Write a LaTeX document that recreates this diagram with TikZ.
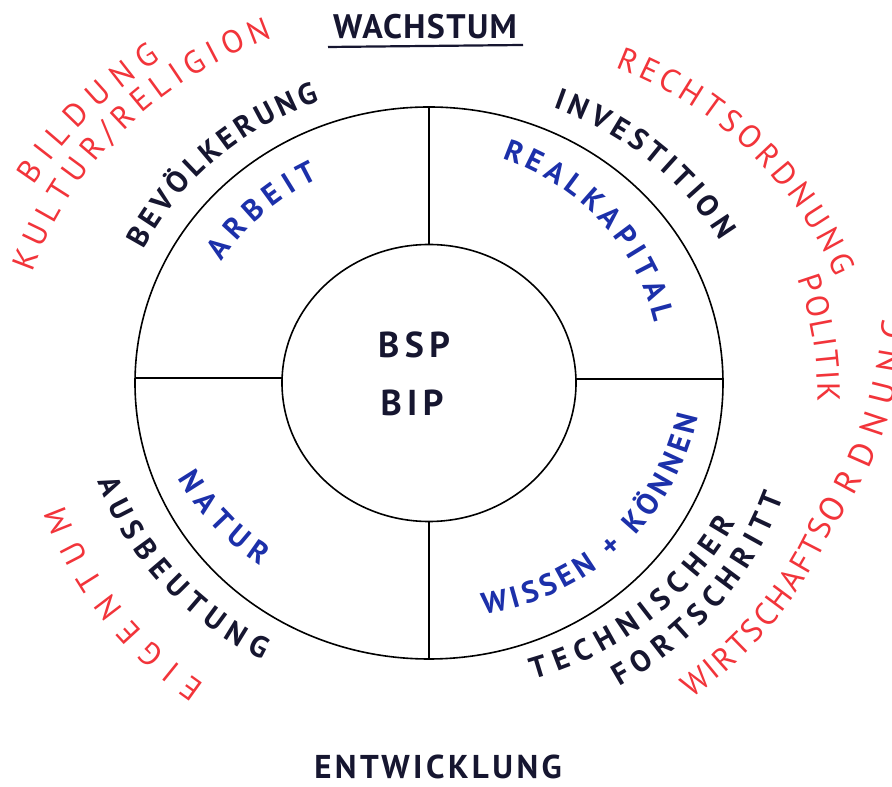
\documentclass[tikz,border=0pt]{standalone}
\usepackage{fontspec}
\setmainfont{PT Sans}
\usetikzlibrary{decorations.text,shapes.geometric}

\definecolor{ink}{RGB}{22,22,48}
\definecolor{inkblue}{RGB}{28,48,170}
\definecolor{inkred}{RGB}{242,52,58}

\newcommand{\inkfont}{\color{ink}\fontsize{30}{30}\selectfont\bfseries}
\newcommand{\bluefont}{\color{inkblue}\fontsize{30}{30}\selectfont\bfseries}
\newcommand{\redfont}{\color{inkred}\fontsize{32}{32}\selectfont}
\newcommand{\redbigfont}{\color{inkred}\fontsize{34}{34}\selectfont}

% text set along a (slightly spiralling) elliptical arc around the centre (429,404)
% #1 format, #2 start angle, #3 end angle, #4 start radius, #5 end radius,
% #6 growth exponent of the radius, #7 text
\newcommand{\ringtext}[7]{%
  \path[decorate, decoration={text along path, text align={fit to path}, text={|#1|#7}}]
    plot[domain=#2:#3, samples=70, variable=\t]
    ({429+(#4+(#5-#4)*pow((\t-(#2))/((#3)-(#2)),#6))*cos(\t)},
     {404+0.94*(#4+(#5-#4)*pow((\t-(#2))/((#3)-(#2)),#6))*sin(\t)});
}

\begin{document}
\begin{tikzpicture}[x=1pt,y=1pt,
  ring/.style={draw=black, line width=1.6pt, ellipse, inner sep=0pt, outer sep=0pt},
  spoke/.style={draw=black, line width=1.6pt},
  heading/.style={text=ink, inner sep=0pt},
  core/.style={text=ink, font=\fontsize{36}{36}\selectfont\bfseries\addfontfeature{LetterSpace=15}, inner sep=0pt}]
\useasboundingbox (0,0) rectangle (892,787);
\fill[white] (0,0) rectangle (892,787);

\coordinate (C) at (429,404);
\node[ring, minimum width=588pt, minimum height=552pt] (outer) at (C) {};
\node[ring, minimum width=294pt, minimum height=277pt] (inner) at (C) {};

\draw[spoke] (inner.north) -- (outer.north);
\draw[spoke] (inner.south) -- (outer.south);
\draw[spoke] ([yshift=5pt]inner.west) -- ([yshift=5pt]outer.west);
\draw[spoke] ([yshift=4pt]inner.east) -- ([yshift=4pt]outer.east);

% centre
\node[core] (bsp) at (414,442) {BSP};
\node[core] (bip) at (412,384) {BIP};

% headings
\node[heading, font=\fontsize{34}{34}\selectfont\bfseries\addfontfeature{LetterSpace=4}] (wachstum) at (425,760) {WACHSTUM};
\coordinate (ulA) at (328,740);
\coordinate (ulB) at (523,742);
\draw[ink, line width=2.2pt] (ulA) -- (ulB);
\node[heading, font=\fontsize{33}{33}\selectfont\bfseries\addfontfeature{LetterSpace=10.5}] (entwicklung) at (438,20) {ENTWICKLUNG};

% upper left
\ringtext{\inkfont}{153.5}{110}{319}{319}{1}{BEVÖLKERUNG}
\ringtext{\bluefont}{148}{117}{244}{244}{1}{ARBEIT}
\ringtext{\redfont}{152}{128}{448}{436}{1}{BILDUNG}
\ringtext{\redfont}{163.5}{113}{414}{399}{1}{KULTUR/RELIGION}

% upper right
\ringtext{\inkfont}{67}{27.5}{318}{328}{1}{INVESTITION}
\ringtext{\bluefont}{73}{16}{250}{235}{1}{REALKAPITAL}
\ringtext{\redfont}{61}{15.5}{384}{422}{1}{RECHTSORDNUNG}
\ringtext{\redfont}{16.7}{-3}{385}{389}{1}{POLITIK}

% lower right: the outer word runs off the sheet
\ringtext{\redfont}{-52}{-20.5}{426}{432}{1}{WIRTSCHAFTS}
\ringtext{\redbigfont}{-20.5}{8}{434}{482}{1}{ORDNUNG}
\ringtext{\inkfont}{-71.7}{-25.8}{332}{341}{1}{TECHNISCHER}
\ringtext{\inkfont}{-59.5}{-18.8}{375}{375}{1}{FORTSCHRITT}
\ringtext{\bluefont}{-77.5}{-7.5}{252}{271}{1}{WISSEN + KÖNNEN}

% lower left
\ringtext{\bluefont}{202}{229}{271}{257}{1}{NATUR}
\ringtext{\inkfont}{197.5}{240.5}{348}{338}{1}{AUSBEUTUNG}
\ringtext{\redfont}{235}{199.5}{391}{387}{1}{EIGENTUM}
\end{tikzpicture}
\end{document}
